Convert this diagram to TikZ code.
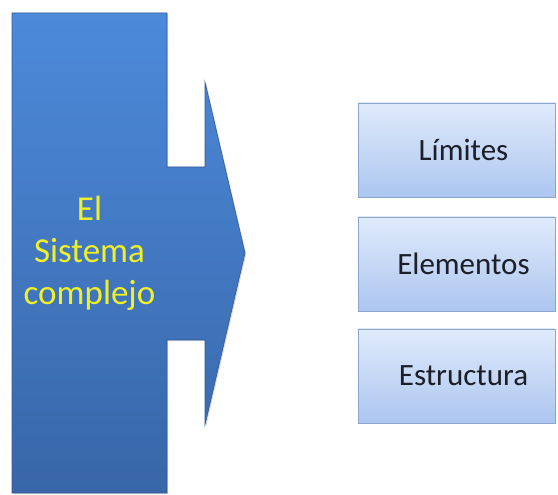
\documentclass[tikz,border=0pt]{standalone}
\usepackage{fontspec}
\setmainfont{Carlito}
\usetikzlibrary{shadows}
\definecolor{bigtop}{RGB}{76,138,218}
\definecolor{bigbot}{RGB}{56,102,168}
\definecolor{bigedge}{RGB}{50,90,150}
\definecolor{ytext}{RGB}{240,240,40}
\definecolor{boxtop}{RGB}{224,234,251}
\definecolor{boxbot}{RGB}{172,198,240}
\definecolor{boxedge}{RGB}{140,165,205}
\definecolor{boxtext}{RGB}{28,30,40}
\tikzset{
  itembox/.style={rectangle, minimum width=197pt, minimum height=94pt,
    top color=boxtop, bottom color=boxbot, draw=boxedge, line width=0.8pt,
    drop shadow={shadow xshift=1.2pt, shadow yshift=-1.2pt, opacity=0.35}},
  itemtext/.style={text=boxtext, font=\fontsize{31}{36}\selectfont},
  maintext/.style={text=ytext, align=center, font=\fontsize{35}{42}\selectfont}
}
\begin{document}
\begin{tikzpicture}[x=1pt,y=1pt]
\useasboundingbox (0,0) rectangle (558,495);
% big arrow shape
\path[top color=bigtop, bottom color=bigbot, draw=bigedge, line width=0.6pt,
      drop shadow={shadow xshift=1.2pt, shadow yshift=-1.2pt, opacity=0.3}]
  (12,482) -- (167,482) -- (167,328) -- (205,328) -- (205,413) -- (245,242)
  -- (205,70) -- (205,155) -- (167,155) -- (167,2) -- (12,2) -- cycle;
\node[maintext] (main) at (89.5,242) {El\\Sistema\\complejo};
% boxes
\node[itembox] (b1) at (456.5,345) {};
\node[itembox] (b2) at (456.5,231) {};
\node[itembox] (b3) at (456.5,119) {};
\node[itemtext] (t1) at ([xshift=7pt]b1.center) {Límites};
\node[itemtext] (t2) at ([xshift=7pt]b2.center) {Elementos};
\node[itemtext] (t3) at ([xshift=7pt]b3.center) {Estructura};
\end{tikzpicture}
\end{document}
